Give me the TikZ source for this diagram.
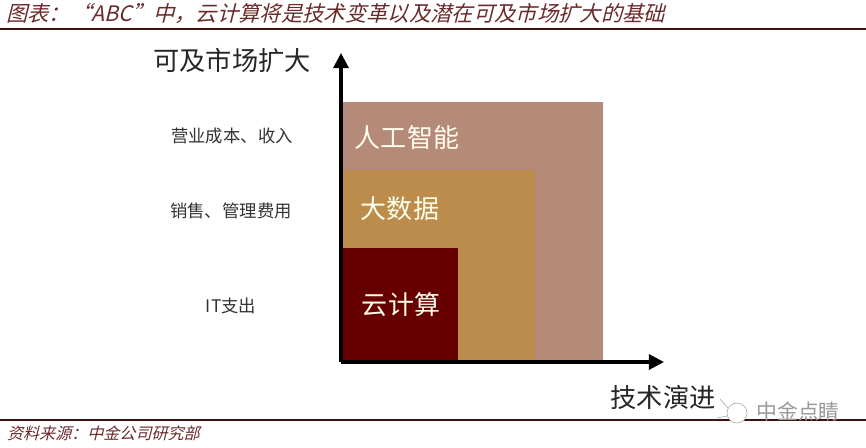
\documentclass[tikz,border=0pt]{standalone}
\usepackage{fontspec}
\setmainfont{Noto Sans CJK SC}
\newfontfamily\slantcjk[FakeSlant=0.25]{Noto Sans CJK SC}
\usetikzlibrary{arrows.meta}
\definecolor{rulered}{HTML}{3F1212}
\definecolor{titlered}{HTML}{6B2A2A}
\definecolor{aicolor}{HTML}{B58A78}
\definecolor{datacolor}{HTML}{BC8C4C}
\definecolor{cloudcolor}{HTML}{660000}
\tikzset{
  axisarrow/.style={line width=2.6pt,-{Triangle[length=13pt,width=13pt]}},
  headrule/.style={line width=1.7pt,rulered},
  axistext/.style={font=\fontsize{22.4}{26}\selectfont,black!85},
  sidetext/.style={font=\fontsize{14.8}{17}\selectfont,black!80},
  boxtext/.style={font=\fontsize{22.2}{26}\selectfont,text=white!92!yellow},
  notetext/.style={font=\slantcjk\fontsize{18.2}{22}\selectfont,titlered,anchor=west},
}
\begin{document}
\begin{tikzpicture}[x=0.03cm,y=-0.03cm]
        \useasboundingbox (0,0) rectangle (866,448);

        \fill[aicolor] (342,102) rectangle (603,362);
        \fill[datacolor] (342,170) rectangle (535,362);
        \fill[cloudcolor] (342,248) rectangle (458,362);

        \coordinate (origin) at (341,362);
        \coordinate (yend) at (341,53);
        \coordinate (xend) at (664,362);
        \draw[axisarrow] (origin) -- (yend);
        \draw[axisarrow] (origin) -- (xend);

        \coordinate (topleft) at (0,29);
        \coordinate (topright) at (866,29);
        \coordinate (botleft) at (0,420);
        \coordinate (botright) at (866,420);
        \draw[headrule] (topleft) -- (topright);
        \draw[headrule] (botleft) -- (botright);

        \node[notetext] (title) at (2,14) {图表：“ABC”中，云计算将是技术变革以及潜在可及市场扩大的基础};
        \node[notetext,font=\slantcjk\fontsize{13.7}{16}\selectfont] (source) at (3,433) {资料来源：中金公司研究部};

        \node[axistext] (ylabel) at (232,60) {可及市场扩大};
        \node[axistext] (xlabel) at (663,397) {技术演进};

        \node[sidetext] (revenue) at (232,136) {营业成本、收入};
        \node[sidetext] (sales) at (231,211) {销售、管理费用};
        \node[sidetext] (itspend) at (231,306) {IT支出};

        \node[boxtext] (ai) at (407,138) {人工智能};
        \node[boxtext] (data) at (400,209) {大数据};
        \node[boxtext] (cloud) at (401,305) {云计算};

        % watermark
        \fill[white] (737,413) circle (10);
        \draw[black!35,line width=0.5pt] (737,413) circle (10);
        \draw[black!35,line width=0.5pt] (728,408) -- (720,399);
        \draw[black!35,line width=0.5pt] (727,416) -- (717,418);
        \node[font=\fontsize{17.8}{20}\selectfont,black!40] (mark) at (798,411) {中金点睛};
\end{tikzpicture}
\end{document}
